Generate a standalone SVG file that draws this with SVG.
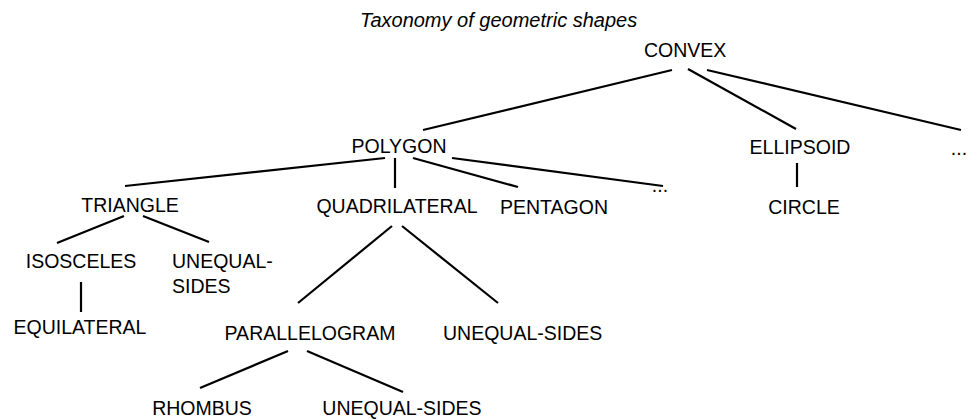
<svg xmlns="http://www.w3.org/2000/svg" width="977" height="420" viewBox="0 0 977 420">
<style>
text{font-family:"Liberation Sans",Arial,sans-serif;font-size:19.5px;fill:#000}
.t{font-style:italic;font-size:20px}
.m{text-anchor:middle}
#edges line{stroke:#000;stroke-width:2.2;stroke-linecap:butt}
</style>
<rect width="977" height="420" fill="#fff"/>
<text class="t" x="360" y="27">Taxonomy of geometric shapes</text>
<g id="edges">
<line x1="672" y1="70" x2="423" y2="130"/>
<line x1="688" y1="69" x2="796" y2="129"/>
<line x1="707" y1="70" x2="961" y2="130"/>
<line x1="385" y1="158" x2="125" y2="186"/>
<line x1="395" y1="158" x2="395" y2="188"/>
<line x1="413" y1="158" x2="518" y2="187"/>
<line x1="452" y1="158" x2="663" y2="186"/>
<line x1="797" y1="163" x2="797" y2="187"/>
<line x1="124" y1="216" x2="57" y2="243"/>
<line x1="143" y1="216" x2="209" y2="242"/>
<line x1="81" y1="282" x2="81" y2="312"/>
<line x1="392" y1="226" x2="298" y2="303"/>
<line x1="402" y1="226" x2="498" y2="303"/>
<line x1="288" y1="351" x2="200" y2="388"/>
<line x1="307" y1="351" x2="403" y2="392"/>
</g>
<g id="convex"><text x="644" y="57">CONVEX</text></g>
<g id="polygon"><text class="m" x="399" y="153">POLYGON</text></g>
<g id="ellipsoid"><text class="m" x="800" y="154">ELLIPSOID</text></g>
<g id="convex-more"><text class="m" x="959" y="155">...</text></g>
<g id="triangle"><text class="m" x="130" y="212">TRIANGLE</text></g>
<g id="quadrilateral"><text class="m" x="397" y="213">QUADRILATERAL</text></g>
<g id="pentagon"><text class="m" x="554" y="214">PENTAGON</text></g>
<g id="polygon-more"><text class="m" x="660" y="192">...</text></g>
<g id="circle"><text class="m" x="804" y="214">CIRCLE</text></g>
<g id="isosceles"><text class="m" x="81" y="268">ISOSCELES</text></g>
<g id="triangle-unequal"><text x="172" y="268">UNEQUAL-</text><text x="172" y="293">SIDES</text></g>
<g id="equilateral"><text class="m" x="80" y="334">EQUILATERAL</text></g>
<g id="parallelogram"><text class="m" x="310" y="340">PARALLELOGRAM</text></g>
<g id="quad-unequal"><text x="443" y="340">UNEQUAL-SIDES</text></g>
<g id="rhombus"><text class="m" x="202" y="415">RHOMBUS</text></g>
<g id="para-unequal"><text class="m" x="402" y="415">UNEQUAL-SIDES</text></g>
</svg>
